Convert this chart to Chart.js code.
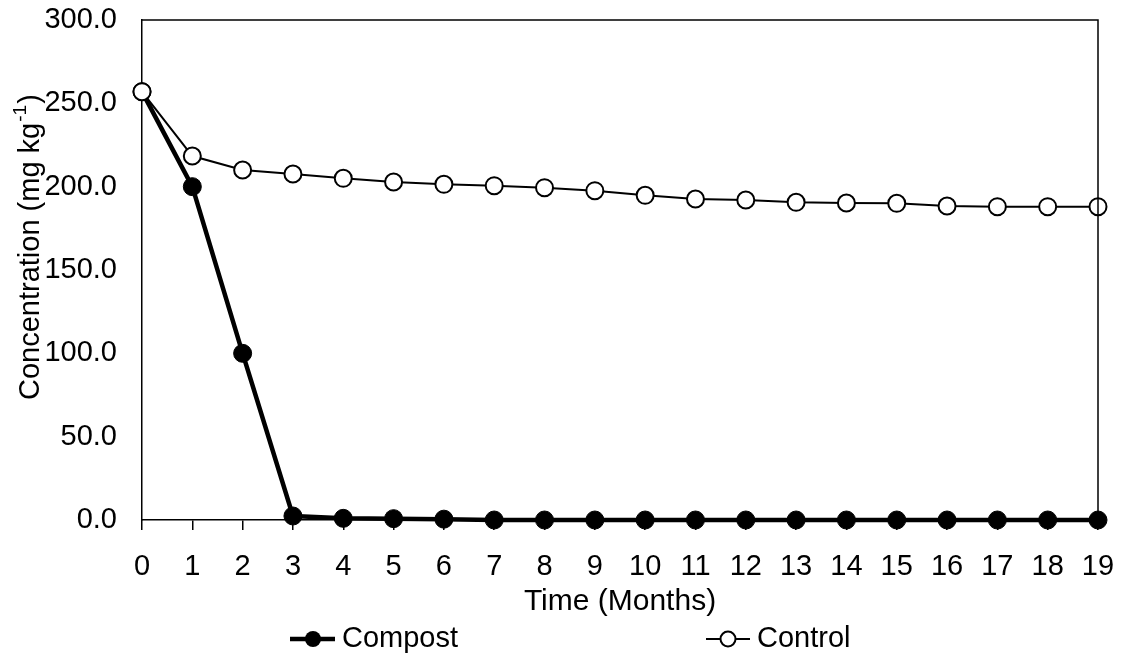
<!DOCTYPE html>
<html>
<head>
<meta charset="utf-8">
<script src="https://cdn.jsdelivr.net/npm/chart.js@4.4.0/dist/chart.umd.min.js"></script>
<style>
  html, body { margin: 0; padding: 0; background: #fff; }
  #wrap { width: 1122px; height: 662px; }
</style>
</head>
<body>
<div id="wrap"><canvas id="chart" width="1122" height="662"></canvas></div>
<script>
// Datos
const months = ['0','1','2','3','4','5','6','7','8','9','10','11','12','13','14','15','16','17','18','19'];
const compost = [257, 200, 100, 2.4, 1, 0.8, 0.5, 0, 0, 0, 0, 0, 0, 0, 0, 0, 0, 0, 0, 0];
const control = [257, 218.4, 210, 207.6, 205, 202.8, 201.4, 200.6, 199.4, 197.6, 194.8, 192.6, 192, 190.6, 190.2, 190, 188.4, 188, 188, 188];
const seriesNames = ['Compost', 'Control'];
const xTitle = 'Time (Months)';
const yTitle = 'Concentration (mg kg';

const FONT = "'Liberation Sans', Arial, sans-serif";
Chart.defaults.font.family = FONT;
Chart.defaults.font.size = 29;
Chart.defaults.color = '#000';

// Marco superior/derecho, título Y y leyenda
const extras = {
    id: 'extras',
    afterDraw(chart) {
        const ctx = chart.ctx;
        const a = chart.chartArea;
        ctx.save();
        // marco
        ctx.strokeStyle = '#000';
        ctx.lineWidth = 1.5;
        ctx.beginPath();
        ctx.moveTo(a.left, a.top);
        ctx.lineTo(a.right, a.top);
        ctx.lineTo(a.right, a.bottom);
        ctx.stroke();

        // título eje Y con superíndice
        ctx.fillStyle = '#000';
        ctx.translate(39, 400);
        ctx.rotate(-Math.PI / 2);
        ctx.textBaseline = 'alphabetic';
        ctx.font = '29px ' + FONT;
        ctx.fillText(yTitle, 0, 0);
        let w = ctx.measureText(yTitle).width;
        ctx.font = '19px ' + FONT;
        ctx.fillText('-1', w + 1, -13);
        w += ctx.measureText('-1').width + 2;
        ctx.font = '29px ' + FONT;
        ctx.fillText(')', w, 0);
        ctx.restore();

        // leyenda
        ctx.save();
        const ly = 639;
        ctx.strokeStyle = '#000';
        ctx.lineWidth = 4.5;
        ctx.beginPath(); ctx.moveTo(290, ly); ctx.lineTo(335, ly); ctx.stroke();
        ctx.fillStyle = '#000';
        ctx.beginPath(); ctx.arc(313, ly, 8, 0, Math.PI * 2); ctx.fill();

        ctx.lineWidth = 2;
        ctx.beginPath(); ctx.moveTo(706, ly); ctx.lineTo(750, ly); ctx.stroke();
        ctx.fillStyle = '#fff';
        ctx.beginPath(); ctx.arc(728, ly, 7.5, 0, Math.PI * 2); ctx.fill(); ctx.stroke();

        ctx.fillStyle = '#000';
        ctx.font = '29px ' + FONT;
        ctx.textBaseline = 'middle';
        ctx.fillText(seriesNames[0], 342, ly);
        ctx.fillText(seriesNames[1], 757, ly);
        ctx.restore();
    }
};

const ctx = document.getElementById('chart').getContext('2d');
const chart = new Chart(ctx, {
    type: 'line',
    data: {
        labels: months,
        datasets: [{
            label: seriesNames[0],
            data: compost,
            borderColor: '#000',
            borderWidth: 4.5,
            pointRadius: 9,
            pointBackgroundColor: '#000',
            pointBorderColor: '#000',
            pointBorderWidth: 1,
            tension: 0,
            clip: false,
            order: 2
        }, {
            label: seriesNames[1],
            data: control,
            borderColor: '#000',
            borderWidth: 2,
            pointRadius: 8.5,
            pointBackgroundColor: '#fff',
            pointBorderColor: '#000',
            pointBorderWidth: 2,
            tension: 0,
            clip: false,
            order: 1
        }]
    },
    options: {
        responsive: false,
        animation: false,
        layout: { padding: { left: 0, top: 20, right: 24, bottom: 42 } },
        plugins: { legend: { display: false }, tooltip: { enabled: false } },
        scales: {
            x: {
                offset: false,
                grid: { drawOnChartArea: false, drawTicks: true, tickLength: 10, color: '#000', lineWidth: 1.5 },
                border: { display: true, color: '#000', width: 1.5 },
                ticks: { padding: 20, maxRotation: 0, autoSkip: false },
                title: { display: true, text: xTitle, padding: 0, font: { size: 30 } },
                afterFit(scale) {
                    scale.height = 100;
                    scale.paddingLeft = 0;
                    scale.paddingRight = 0;
                }
            },
            y: {
                min: 0, max: 300,
                grid: { display: false, drawTicks: false },
                border: { display: true, color: '#000', width: 1.5 },
                ticks: { stepSize: 50, padding: 25, callback: v => v.toFixed(1) },
                afterFit(scale) {
                    scale.width = 142;
                    scale.paddingTop = 0;
                    scale.paddingBottom = 0;
                }
            }
        }
    },
    plugins: [extras]
});
</script>
</body>
</html>
